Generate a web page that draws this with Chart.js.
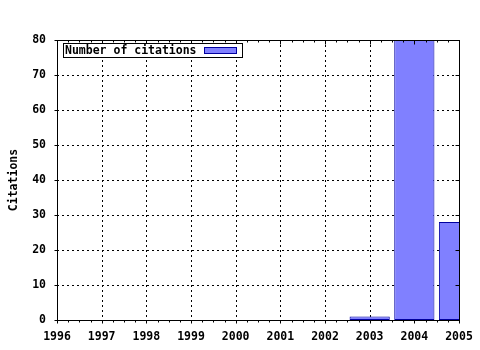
<!DOCTYPE html>
<html>
<head>
<meta charset="UTF-8">
<title>Citations</title>
<script src="https://cdn.jsdelivr.net/npm/chart.js@4/dist/chart.umd.min.js"></script>
<style>
    html, body { margin: 0; padding: 0; background: #fff; }
    #wrap { width: 480px; height: 350px; }
</style>
</head>
<body>
<div id="wrap"><canvas id="c" width="480" height="350"></canvas></div>
<script>
    // data
    const years = [2003, 2004, 2005];
    const citations = [1, 80, 28];
    const yearTicks = [1996, 1997, 1998, 1999, 2000, 2001, 2002, 2003, 2004, 2005];
    const citationTicks = [0, 10, 20, 30, 40, 50, 60, 70, 80];
    const seriesLabel = 'Number of citations';

    const FONT = 'bold 11.5px "DejaVu Sans Mono"';

    // gnuplot-ish frame, dotted grid, ticks and legend box
    const gnuFrame = {
        id: 'gnuFrame',
        beforeDatasetsDraw(chart) {
            const {ctx, chartArea: a, scales: {x, y}} = chart;
            ctx.save();
            ctx.strokeStyle = '#000';
            ctx.lineWidth = 1;
            ctx.setLineDash([2, 3]);
            ctx.beginPath();
            yearTicks.slice(1, -1).forEach(v => {
                const px = Math.round(x.getPixelForValue(v)) + 0.5;
                ctx.moveTo(px, a.top);
                ctx.lineTo(px, a.bottom);
            });
            citationTicks.slice(1, -1).forEach(v => {
                const py = Math.round(y.getPixelForValue(v)) + 0.5;
                ctx.moveTo(a.left, py);
                ctx.lineTo(a.right, py);
            });
            ctx.stroke();
            ctx.restore();
        },
        afterDraw(chart) {
            const {ctx, chartArea: a, scales: {x, y}} = chart;
            const L = Math.round(a.left) + 0.5, R = Math.round(a.right) + 0.5;
            const T = Math.round(a.top) + 0.5, B = Math.round(a.bottom) + 0.5;
            ctx.save();
            ctx.strokeStyle = '#000';
            ctx.lineWidth = 1;
            ctx.setLineDash([]);
            ctx.strokeRect(L, T, R - L, B - T);

            ctx.beginPath();
            // x ticks, major and quarter-year minor
            for (let i = 0; i < yearTicks.length; i++) {
                const px = Math.round(x.getPixelForValue(yearTicks[i])) + 0.5;
                ctx.moveTo(px, B); ctx.lineTo(px, B + 3);
                ctx.moveTo(px, T); ctx.lineTo(px, T + 4);
                if (i < yearTicks.length - 1) {
                    for (let k = 1; k < 4; k++) {
                        const mx = Math.round(x.getPixelForValue(yearTicks[i] + k / 4)) + 0.5;
                        ctx.moveTo(mx, B); ctx.lineTo(mx, B + 2);
                        ctx.moveTo(mx, T); ctx.lineTo(mx, T + 2);
                    }
                }
            }
            // y ticks
            citationTicks.forEach(v => {
                const py = Math.round(y.getPixelForValue(v)) + 0.5;
                ctx.moveTo(L - 3, py); ctx.lineTo(L, py);
                ctx.moveTo(R, py); ctx.lineTo(R - 4, py);
            });
            ctx.stroke();

            // legend box
            const ds = chart.data.datasets[0];
            ctx.fillStyle = '#fff';
            ctx.fillRect(63.5, 43.5, 179, 14);
            ctx.strokeRect(63.5, 43.5, 179, 14);
            ctx.font = FONT;
            ctx.fillStyle = '#000';
            ctx.textBaseline = 'middle';
            ctx.textAlign = 'left';
            ctx.fillText(ds.label, 65, 51);
            ctx.fillStyle = ds.backgroundColor;
            ctx.fillRect(204.5, 47.5, 32, 6);
            ctx.strokeStyle = ds.borderColor;
            ctx.strokeRect(204.5, 47.5, 32, 6);
            ctx.restore();
        }
    };

    const tickFont = {family: 'DejaVu Sans Mono', size: 11.5, weight: 'bold'};

    new Chart(document.getElementById('c'), {
        type: 'bar',
        data: {
            datasets: [{
                label: seriesLabel,
                data: years.map((yr, i) => ({x: yr, y: citations[i]})),
                backgroundColor: '#8080ff',
                borderColor: '#0000a0',
                borderWidth: 1,
                borderSkipped: false,
                barPercentage: 0.9,
                categoryPercentage: 1.0,
                clip: 0
            }]
        },
        options: {
            responsive: false,
            animation: false,
            layout: {padding: {left: 0, top: 40, right: 21, bottom: 0}},
            plugins: {legend: {display: false}, tooltip: {enabled: false}},
            scales: {
                x: {
                    type: 'linear',
                    min: 1996,
                    max: 2005,
                    offset: false,
                    grid: {display: false, drawTicks: false},
                    border: {display: false},
                    afterBuildTicks: s => { s.ticks = yearTicks.map(v => ({value: v})); },
                    ticks: {
                        color: '#000',
                        font: tickFont,
                        padding: 10,
                        autoSkip: false,
                        maxRotation: 0,
                        callback: v => String(v)
                    },
                    afterFit: s => { s.height = 30; s.paddingLeft = 0; s.paddingRight = 0; }
                },
                y: {
                    min: 0,
                    max: 80,
                    grid: {display: false, drawTicks: false},
                    border: {display: false},
                    afterBuildTicks: s => { s.ticks = citationTicks.map(v => ({value: v})); },
                    ticks: {color: '#000', font: tickFont, padding: 11},
                    title: {
                        display: true,
                        text: 'Citations',
                        color: '#000',
                        font: tickFont,
                        padding: {top: 7, bottom: 0}
                    },
                    afterFit: s => { s.width = 57; s.paddingTop = 0; s.paddingBottom = 0; }
                }
            }
        },
        plugins: [gnuFrame]
    });
</script>
</body>
</html>
